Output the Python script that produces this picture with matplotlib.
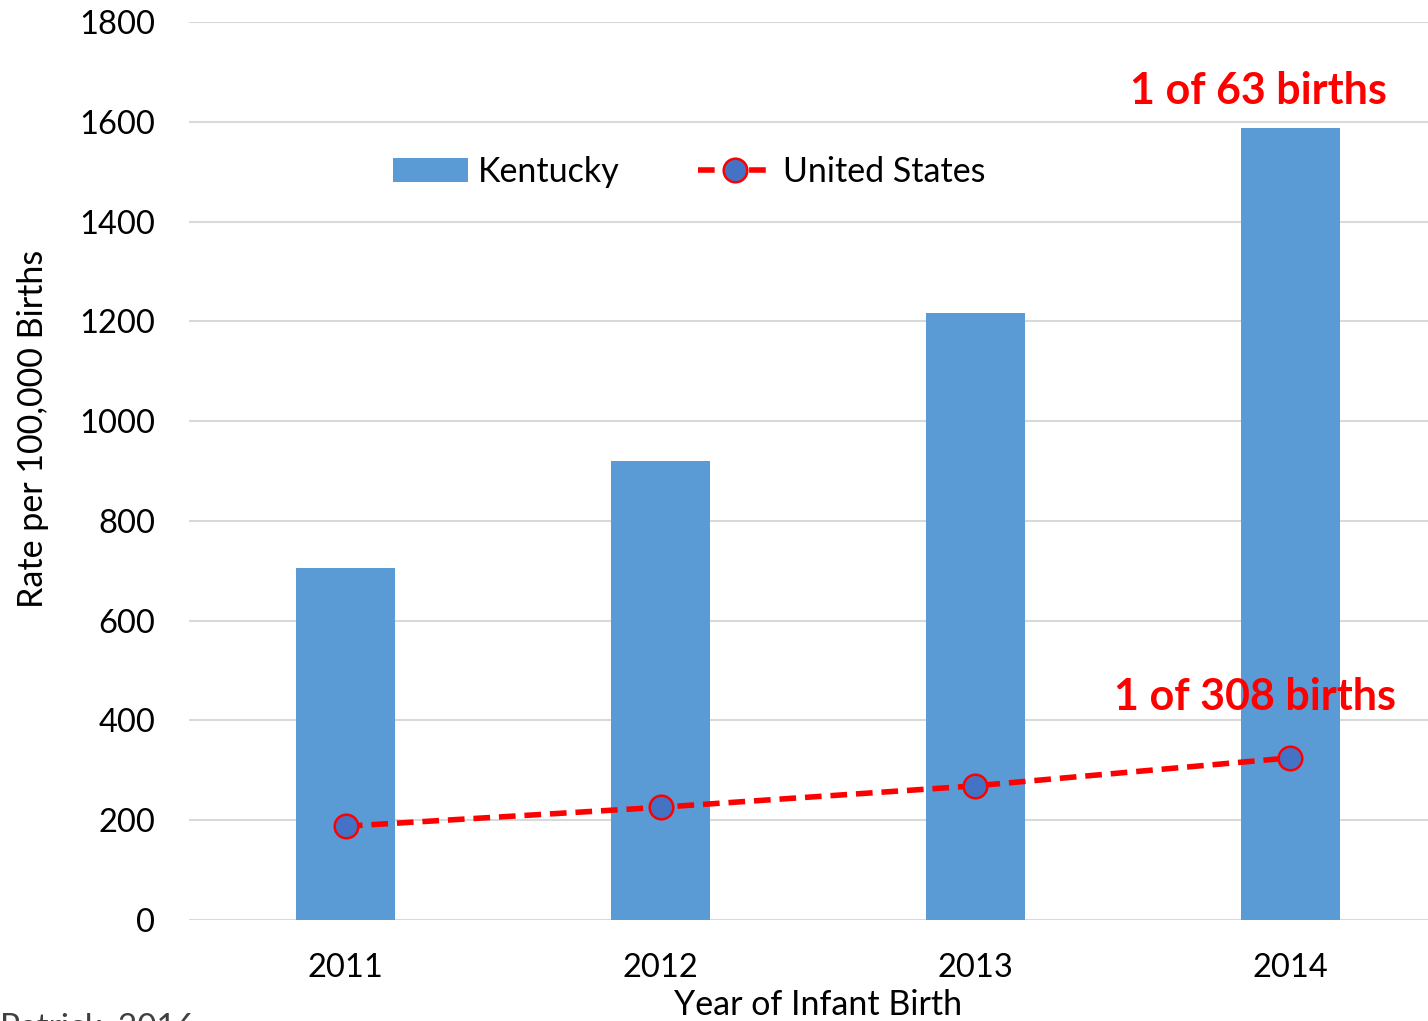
import matplotlib
matplotlib.use("Agg")
import matplotlib.pyplot as plt
import numpy as np

years = ["2011", "2012", "2013", "2014"]
kentucky = [706, 920, 1217, 1587]
united_states = [188, 226, 269, 325]
yticks = [0, 200, 400, 600, 800, 1000, 1200, 1400, 1600, 1800]
ann_ky = "1 of 63 births"
ann_us = "1 of 308 births"

plt.rcParams['font.family'] = ['Lato', 'DejaVu Sans']

fig = plt.figure(figsize=(14.28, 10.21), dpi=100)
W, H = 1428, 1021
left = 188.5 / W
right = 1447.5 / W
bottom = 1 - 920 / H
top = 1 - 22 / H
ax = fig.add_axes([left, bottom, right - left, top - bottom])

x = np.arange(len(years))
bars = ax.bar(x, kentucky, width=0.314, color="#5B9BD5", label="Kentucky", zorder=2)
line, = ax.plot(x, united_states, color="red", linestyle=(0, (3, 1.6)), linewidth=4,
                marker="o", markersize=17, markerfacecolor="#4472C4",
                markeredgecolor="red", markeredgewidth=1.8, label="United States", zorder=3)

ax.set_xlim(-0.5, 3.5)
ax.set_ylim(0, 1800)
ax.set_yticks(yticks)
ax.set_xticks(x)
ax.set_xticklabels(years)
ax.grid(axis="y", color="#d9d9d9", linewidth=1.5, zorder=0)
ax.set_axisbelow(True)
for s in ax.spines.values():
    s.set_visible(False)
ax.tick_params(axis="both", length=0, labelsize=23.5, colors="black")
ax.tick_params(axis="y", pad=24)
ax.tick_params(axis="x", pad=24)

fig.text(33 / W, 1 - 429 / H, "Rate per 100,000 Births", fontsize=24.5,
         rotation=90, ha="center", va="center")
fig.text(818 / W, 1 - 1005 / H, "Year of Infant Birth", fontsize=24.5,
         ha="center", va="center")

ax.annotate(ann_ky, xy=(3, kentucky[3]), xytext=(-23, 27), textcoords="offset points",
            ha="center", va="center", color="red", fontsize=31, fontweight="bold")
ax.annotate(ann_us, xy=(3, united_states[3]), xytext=(-25, 44), textcoords="offset points",
            ha="center", va="center", color="red", fontsize=31, fontweight="bold")

leg = ax.legend(handles=[bars, line], labels=["Kentucky", "United States"],
                loc="center", bbox_to_anchor=(689 / W, 1 - 172 / H),
                bbox_transform=fig.transFigure, ncol=2, frameon=False, fontsize=24.5,
                handlelength=2.2, handletextpad=0.3, columnspacing=2.3)

fig.text(0.0, 1 - 1013 / H, "Patrick, 2016", fontsize=24, ha="left", va="top",
         color="#404040")

fig.savefig("out.png", dpi=100)
